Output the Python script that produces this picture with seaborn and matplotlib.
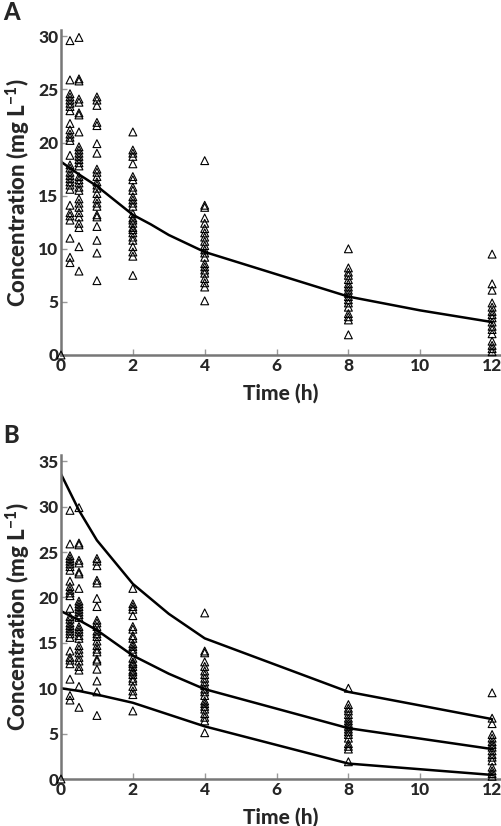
import matplotlib
matplotlib.use("Agg")
import matplotlib.pyplot as plt
import numpy as np
import pandas as pd
import seaborn as sns

# observed concentrations (mg/L) by sampling time (h)
obs_t0 = [0.0]
obs_t025 = [29.6, 25.9, 24.6, 24.3, 24.0, 23.7, 23.4, 23.0, 21.8, 21.2, 20.8, 20.5, 20.2,
            18.8, 17.9, 17.6, 17.2, 16.9, 16.6, 16.3, 16.0, 15.6, 14.1, 13.4, 13.1, 12.7,
            11.0, 9.2, 8.7]
obs_t05 = [29.9, 26.0, 25.8, 24.1, 23.8, 22.8, 22.6, 21.0, 19.6, 19.3, 19.0, 18.7, 18.4,
           18.1, 17.8, 16.8, 16.5, 16.2, 15.8, 15.5, 14.7, 14.3, 13.9, 13.4, 13.0, 12.4,
           12.0, 10.2, 7.9]
obs_t1 = [24.3, 24.0, 23.5, 21.9, 21.6, 19.9, 19.0, 17.5, 17.2, 16.8, 16.3, 16.0, 15.7,
          15.2, 14.7, 14.3, 14.0, 13.2, 13.0, 12.1, 10.8, 9.6, 7.0]
obs_t2 = [21.0, 19.3, 19.0, 18.7, 18.0, 16.8, 16.5, 15.8, 15.5, 14.9, 14.6, 14.3, 14.0,
          13.3, 12.9, 12.7, 12.4, 12.0, 11.8, 11.5, 11.1, 10.8, 10.2, 9.7, 9.3, 7.5]
obs_t4 = [18.3, 14.1, 13.9, 12.9, 12.4, 11.9, 11.5, 11.1, 10.7, 10.3, 9.9, 9.6, 9.2, 8.6,
          8.3, 8.0, 7.7, 7.2, 6.8, 6.4, 5.1]
obs_t8 = [10.0, 8.2, 7.8, 7.5, 7.1, 6.7, 6.4, 6.1, 5.8, 5.5, 5.2, 4.9, 4.5, 3.9, 3.6,
          3.3, 1.9]
obs_t12 = [9.5, 6.7, 6.1, 4.9, 4.5, 4.1, 3.8, 3.5, 3.1, 2.7, 2.4, 2.0, 1.3, 0.9, 0.6, 0.3]

obs_times = [0, 0.25, 0.5, 1, 2, 4, 8, 12]
obs_values = [obs_t0, obs_t025, obs_t05, obs_t1, obs_t2, obs_t4, obs_t8, obs_t12]

# panel A: population prediction
pred_time = [0, 0.5, 1, 2, 2.5, 3, 4, 6, 8, 10, 12]
pred_conc = [18.2, 17.0, 15.9, 13.2, 12.3, 11.3, 9.7, 7.6, 5.5, 4.2, 3.1]

# panel B: 5th, 50th, 95th percentiles of simulated profiles
pi_time = [0, 0.5, 1, 2, 3, 4, 8, 12]
pi_upper = [33.6, 29.6, 26.3, 21.5, 18.2, 15.5, 9.6, 6.6]
pi_median = [18.5, 17.5, 16.4, 13.6, 11.6, 9.9, 5.6, 3.3]
pi_lower = [10.0, 9.7, 9.3, 8.4, 7.1, 5.8, 1.7, 0.45]

obs = pd.DataFrame({
    "time": np.concatenate([[t] * len(v) for t, v in zip(obs_times, obs_values)]),
    "conc": np.concatenate(obs_values),
})

sns.set_style("ticks")
plt.rcParams["font.family"] = ["Lato", "DejaVu Sans"]
plt.rcParams["mathtext.fontset"] = "custom"
plt.rcParams["mathtext.rm"] = "Lato:black"
plt.rcParams["mathtext.it"] = "Lato:black"
plt.rcParams["mathtext.bf"] = "Lato:black"

fig = plt.figure(figsize=(5.02, 8.26), dpi=100)
axA = fig.add_axes([61 / 502, 1 - 355 / 826, 439 / 502, 325 / 826])
axB = fig.add_axes([61 / 502, 1 - 779 / 826, 439 / 502, 324 / 826])

spine_col = "#777777"


def style(ax, ymax, ystep):
    ax.set_xlim(0, 12.22)
    ax.set_ylim(0, ymax * 1.02)
    ax.set_xticks(range(0, 13, 2))
    ax.set_yticks(np.arange(0, ymax + 0.1, ystep))
    sns.despine(ax=ax)
    for s in ["left", "bottom"]:
        ax.spines[s].set_color(spine_col)
        ax.spines[s].set_linewidth(1.8)
    ax.tick_params(direction="in", length=4, width=1, color="#999999",
                   labelsize=12.5, pad=2)
    for lab in ax.get_xticklabels() + ax.get_yticklabels():
        lab.set_fontweight("black")
    ax.set_xlabel("Time (h)", fontsize=15, fontweight="black", labelpad=7)
    ax.set_ylabel("Concentration (mg L$^{-1}$)", fontsize=16, fontweight="black",
                  labelpad=4)


for ax in (axA, axB):
    sns.scatterplot(data=obs, x="time", y="conc", ax=ax, marker="^", s=32,
                    facecolors="none", edgecolor="black", linewidth=0.8,
                    clip_on=False, zorder=3)

sns.lineplot(x=pred_time, y=pred_conc, ax=axA, color="black", lw=1.8,
             sort=False, estimator=None)
for band in (pi_upper, pi_median, pi_lower):
    sns.lineplot(x=pi_time, y=band, ax=axB, color="black", lw=1.8,
                 sort=False, estimator=None)

style(axA, 30, 5)
style(axB, 35, 5)

fig.text(3 / 502, 1 - 13 / 826, "A", fontsize=17, fontweight="black", va="center")
fig.text(3 / 502, 1 - 436 / 826, "B", fontsize=17, fontweight="black", va="center")

fig.savefig("out.png", dpi=100)
